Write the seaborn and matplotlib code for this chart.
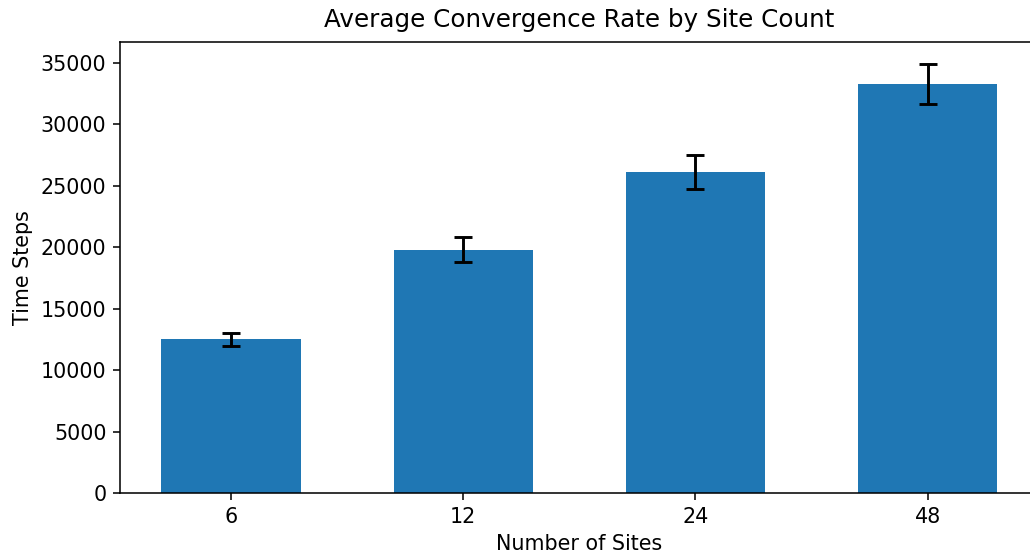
import pandas as pd
import seaborn as sns
import matplotlib.pyplot as plt

# values
sites = ['6', '12', '24', '48']
mean_steps = [12500, 19800, 26150, 33300]
err_steps = [530, 1000, 1380, 1650]

df = pd.DataFrame({'sites': sites, 'steps': mean_steps})

fig = plt.figure(figsize=(1030 / 140, 558 / 140), dpi=140)
ax = fig.add_axes([0.1165, 0.1165, 0.892, 0.808])

sns.barplot(data=df, x='sites', y='steps', color='#1f77b4', saturation=1,
            width=0.6, errorbar=None, ax=ax)
ax.errorbar(range(len(sites)), mean_steps, yerr=err_steps, fmt='none',
            ecolor='black', elinewidth=1.5, capsize=4.7, capthick=1.5)

ax.set_xlim(-0.478, 3.478)
ax.set_title('Average Convergence Rate by Site Count', fontsize=12.7, pad=8)
ax.set_xlabel('Number of Sites', fontsize=10.6)
ax.set_ylabel('Time Steps', fontsize=10.6)
ax.tick_params(labelsize=10.6)

fig.savefig('out.png', dpi=140)
